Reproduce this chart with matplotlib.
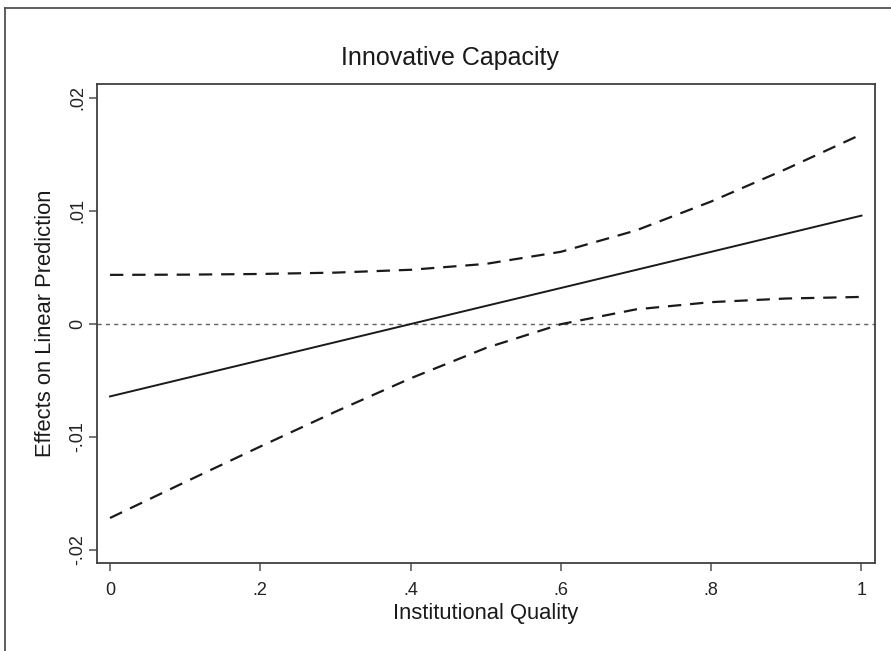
import matplotlib
matplotlib.use("Agg")
import matplotlib.pyplot as plt
from matplotlib.lines import Line2D

plt.rcParams['font.family'] = ['Liberation Sans', 'DejaVu Sans']

# marginal effect of innovative capacity across institutional quality
quality = [0.0, 0.1, 0.2, 0.3, 0.4, 0.5, 0.6, 0.7, 0.8, 0.9, 1.0]
effect = [-0.00642, -0.00482, -0.00322, -0.00162, -0.00002, 0.00158,
          0.00317, 0.00477, 0.00637, 0.00797, 0.00957]
upper = [0.00433, 0.00435, 0.00441, 0.00453, 0.00478, 0.00530,
         0.00637, 0.00826, 0.01082, 0.01370, 0.01676]
lower = [-0.01717, -0.01399, -0.01085, -0.00777, -0.00482, -0.00214,
         -0.00003, 0.00128, 0.00192, 0.00224, 0.00238]

xticks = [0, 0.2, 0.4, 0.6, 0.8, 1.0]
xticklabels = ['0', '.2', '.4', '.6', '.8', '1']
yticks = [-0.02, -0.01, 0, 0.01, 0.02]
yticklabels = ['-.02', '-.01', '0', '.01', '.02']

W, H = 891, 651
fig = plt.figure(figsize=(W / 100, H / 100), dpi=100)
ax = fig.add_axes([97 / W, (H - 563) / H, (875 - 97) / W, (563 - 84) / H])

# outer frame (left and top edges visible)
fig.add_artist(Line2D([5 / W, 5 / W], [0, 1 - 8 / H], transform=fig.transFigure,
                      color='#505050', lw=1.3))
fig.add_artist(Line2D([5 / W, 1], [1 - 8 / H, 1 - 8 / H], transform=fig.transFigure,
                      color='#505050', lw=1.3))

ax.axhline(0, color='#606060', lw=1.0, linestyle=(0, (3, 3)))
ax.plot(quality, effect, color='#1a1a1a', lw=1.4)
ax.plot(quality, upper, color='#1a1a1a', lw=1.6, linestyle=(0, (6, 4)))
ax.plot(quality, lower, color='#1a1a1a', lw=1.6, linestyle=(0, (6, 4)))

ax.set_xlim(-0.0173, 1.018)
ax.set_ylim(-0.02115, 0.02121)
ax.set_xticks(xticks)
ax.set_xticklabels(xticklabels)
ax.set_yticks(yticks)
ax.set_yticklabels(yticklabels, rotation=90, va='center')

for s in ax.spines.values():
    s.set_color('#404040')
    s.set_linewidth(1.3)
ax.tick_params(direction='out', length=6, width=1.1, color='#505050',
               labelsize=13, labelcolor='#222222')
ax.tick_params(axis='x', pad=8)
ax.tick_params(axis='y', pad=2)

fig.text(450 / W, 1 - 58 / H, 'Innovative Capacity', fontsize=18,
         color='#1a1a1a', ha='center', va='center')
fig.text(486 / W, 1 - 613 / H, 'Institutional Quality', fontsize=15.8,
         color='#1a1a1a', ha='center', va='center')
fig.text(46 / W, 1 - 323.5 / H, 'Effects on Linear Prediction', fontsize=15.8,
         color='#1a1a1a', ha='center', va='center', rotation=90)

fig.savefig('out.png', dpi=100)
